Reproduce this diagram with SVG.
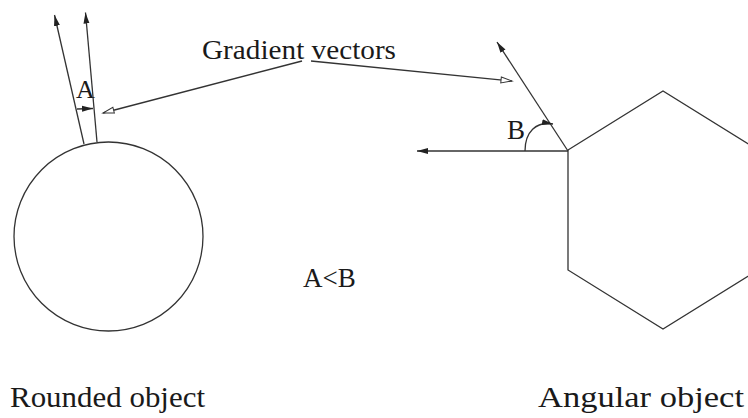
<svg xmlns="http://www.w3.org/2000/svg" width="748" height="418" viewBox="0 0 748 418">
  <style>
    .ln { stroke: #333; stroke-width: 1.3; fill: none; }
    .lbl { font-family: "Liberation Serif", "DejaVu Serif", "Times New Roman", serif; fill: #1a1a1a; }
  </style>
  <defs>
    <marker id="solid" markerUnits="userSpaceOnUse" markerWidth="12" markerHeight="8" refX="11" refY="4" orient="auto">
      <path d="M0,1 L11,4 L0,7 z" fill="#222"/>
    </marker>
    <marker id="open" markerUnits="userSpaceOnUse" markerWidth="14" markerHeight="8" refX="12" refY="4" orient="auto">
      <path d="M1,1 L12,4 L1,7 z" fill="#fff" stroke="#333" stroke-width="1"/>
    </marker>
  </defs>
  <rect width="748" height="418" fill="#fff"/>

  <g id="rounded-object">
    <circle class="ln" cx="108.5" cy="236.5" r="94.5"/>
    <text class="lbl" font-family="Liberation Serif, serif" x="10" y="407" font-size="29" textLength="195" lengthAdjust="spacingAndGlyphs">Rounded object</text>
  </g>

  <g id="angular-object">
    <polygon class="ln" points="568,150 663,91 758,150 758,270 663,329 568,270"/>
    <text class="lbl" font-family="Liberation Serif, serif" x="538" y="407" font-size="29" textLength="206" lengthAdjust="spacingAndGlyphs">Angular object</text>
  </g>

  <g id="angle-a">
    <text class="lbl" font-family="Liberation Serif, serif" x="76" y="98" font-size="26">A</text>
  </g>

  <g id="angle-b">
    <text class="lbl" font-family="Liberation Serif, serif" x="507" y="139" font-size="27">B</text>
  </g>

  <g id="gradient-vectors-label">
    <text class="lbl" font-family="Liberation Serif, serif" x="202" y="59" font-size="28" textLength="194" lengthAdjust="spacingAndGlyphs">Gradient vectors</text>
  </g>

  <g id="comparison">
    <text class="lbl" font-family="Liberation Serif, serif" x="303" y="287" font-size="27">A&lt;B</text>
  </g>

  <g id="connectors">
    <line class="ln" x1="84" y1="144" x2="54.5" y2="15" marker-end="url(#solid)"/>
    <line class="ln" x1="97" y1="142" x2="85.5" y2="12.5" marker-end="url(#solid)"/>
    <line class="ln" x1="77" y1="109" x2="93" y2="108.5" marker-end="url(#solid)"/>
    <line class="ln" x1="568" y1="151" x2="497" y2="42" marker-end="url(#solid)"/>
    <line class="ln" x1="568" y1="151" x2="417" y2="151" marker-end="url(#solid)"/>
    <path class="ln" d="M525,151 C525,132 536,121 553,124" marker-end="url(#solid)"/>
    <line class="ln" x1="302" y1="61" x2="103" y2="113" marker-end="url(#open)"/>
    <line class="ln" x1="311" y1="61" x2="512" y2="81" marker-end="url(#open)"/>
  </g>
</svg>
